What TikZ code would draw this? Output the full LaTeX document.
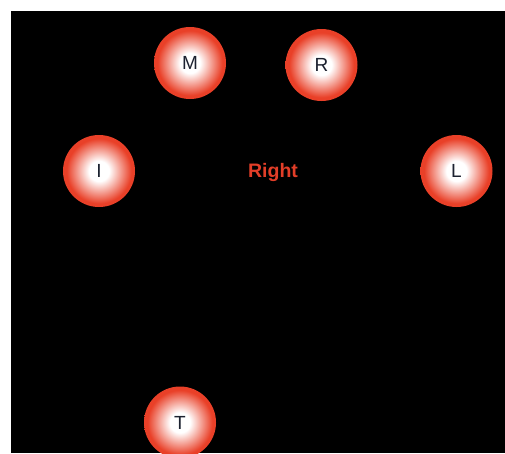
\documentclass[tikz,border=0pt]{standalone}
\usepackage{fontspec}
\setmainfont{Liberation Sans}
\usepackage{xcolor}
\usepackage{tikz}
\usetikzlibrary{positioning}

\definecolor{ballred}{RGB}{233,64,40}
\definecolor{labelred}{RGB}{226,62,40}
\definecolor{letterink}{RGB}{28,34,48}
\pgfdeclareradialshading{ballshade}{\pgfpoint{0bp}{0bp}}{%
  color(0bp)=(white); color(7bp)=(white); color(22.5bp)=(ballred);
  color(25bp)=(ballred); color(50bp)=(ballred)}

\begin{document}
\begin{tikzpicture}[x=1pt, y=-1pt,
    ball/.style={circle, minimum size=72pt, inner sep=0pt, shading=ballshade,
                 font=\fontsize{19}{19}\selectfont, text=letterink},
    hand/.style={font=\fontsize{19.5}{19.5}\selectfont\bfseries, text=labelred}]

\useasboundingbox (0,0) rectangle (505,453);
\fill[black] (11,11) rectangle (505,453);

% ── Fingers ──────────────────────────────────────────────────────
\node[ball] (m) at (190, 63)  {M};
\node[ball] (r) at (321.5, 65) {R};
\node[ball] (i) at (99, 171)  {I};
\node[ball] (l) at (456.5, 171) {L};
\node[ball] (t) at (180, 422.5) {T};

% ── Label ────────────────────────────────────────────────────────
\node[hand] (right) at (273, 172) {Right};

\end{tikzpicture}
\end{document}
